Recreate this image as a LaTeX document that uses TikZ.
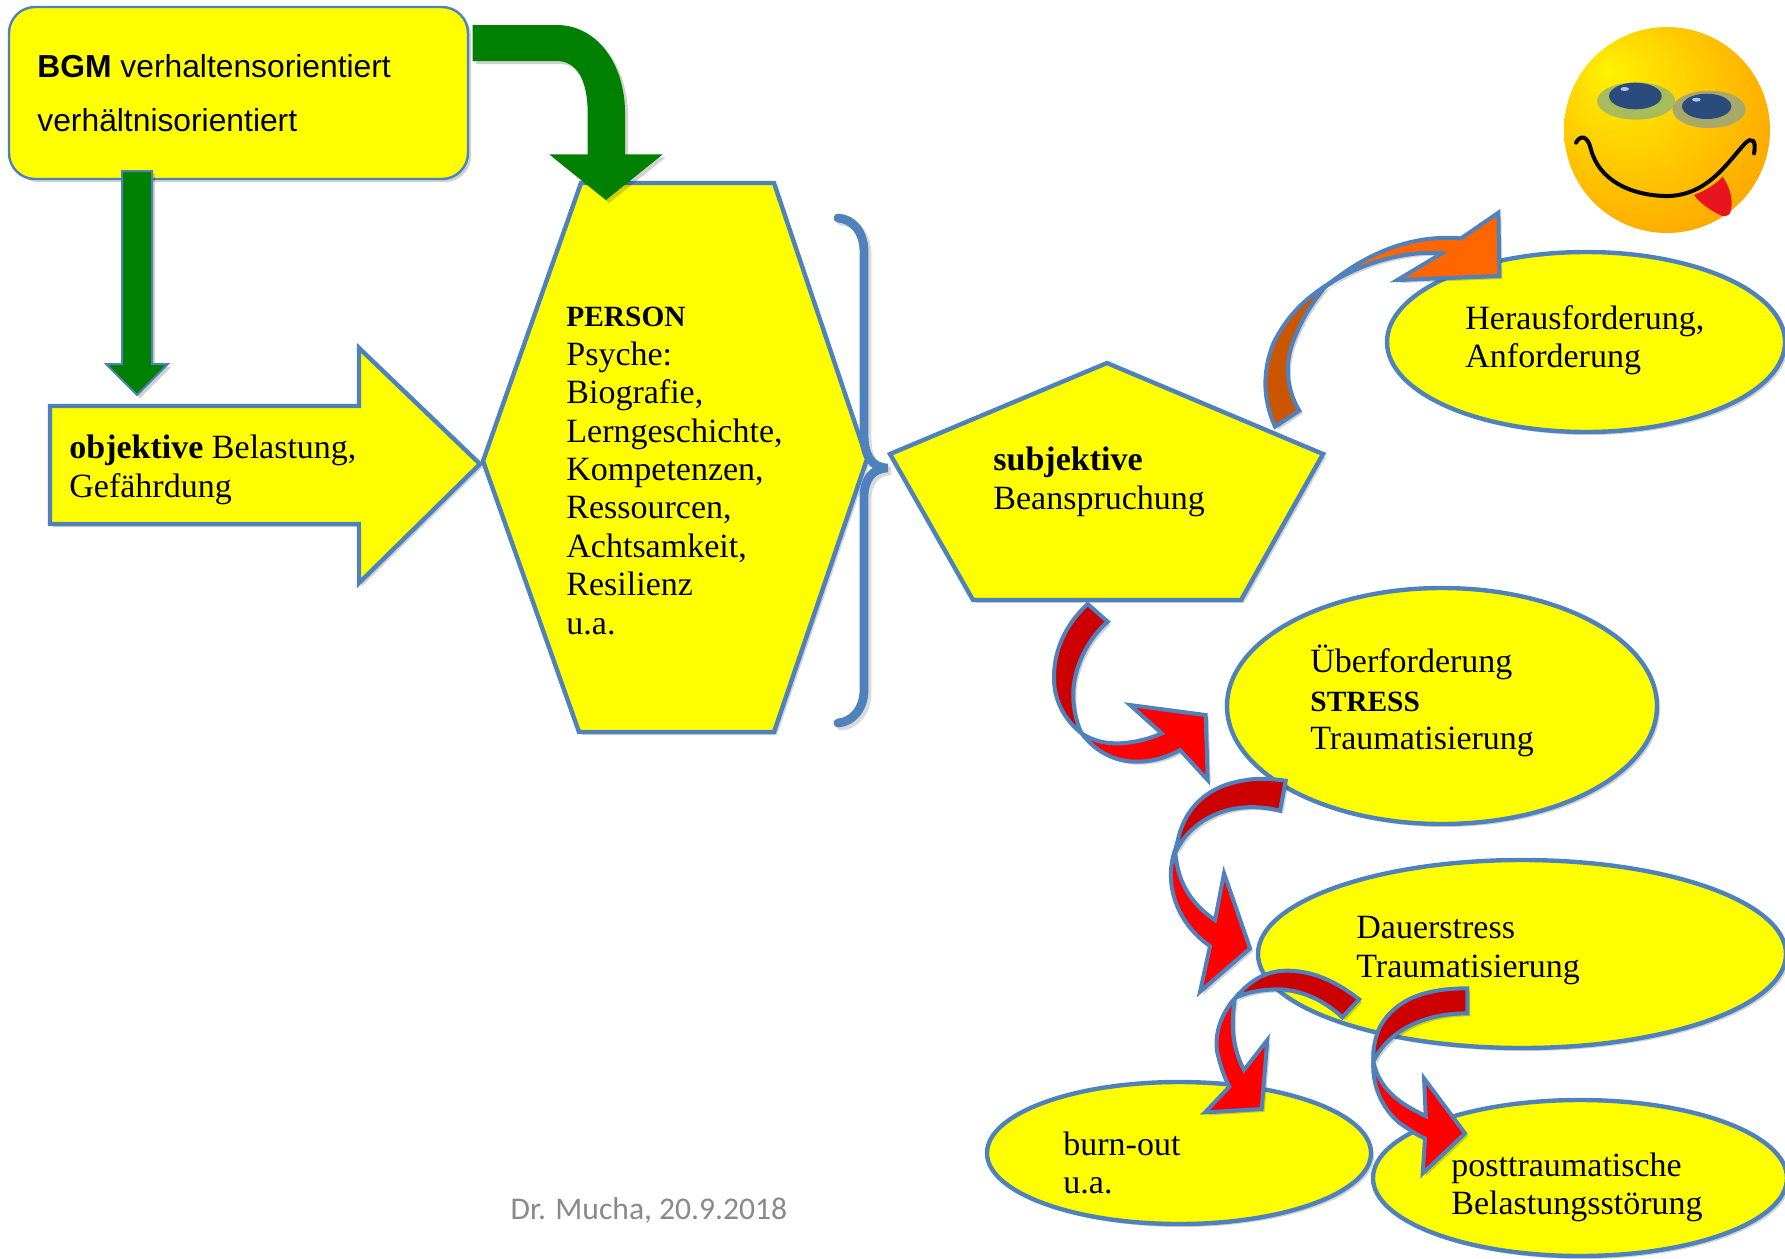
\documentclass[tikz,border=0pt]{standalone}
\usepackage{fontspec}
\setmainfont{Liberation Serif}
\newfontfamily\arialf{Liberation Sans}
\newfontfamily\carlitof{Carlito}
\usetikzlibrary{shadows,shapes.geometric}
\definecolor{edgeblue}{HTML}{4F81BD}
\definecolor{pureyellow}{HTML}{FFFF00}
\definecolor{purered}{HTML}{FF0000}
\definecolor{bandred}{HTML}{CC0000}
\definecolor{arrowgreen}{HTML}{008000}
\definecolor{darkorange}{HTML}{CC5500}
\definecolor{brightorange}{HTML}{FF6600}
\definecolor{footgray}{HTML}{898989}
\definecolor{eyeringa}{HTML}{A9BC5C}
\definecolor{eyeringb}{HTML}{A8A86A}
\definecolor{pupil}{HTML}{2A4B7C}
\definecolor{glint}{HTML}{A9C4E8}
\definecolor{faceA}{HTML}{FFF200}
\definecolor{faceB}{HTML}{FFD800}
\definecolor{faceC}{HTML}{FFB400}
\definecolor{faceD}{HTML}{F79A00}
\definecolor{faceE}{HTML}{EE6A00}
\definecolor{tongue}{HTML}{E8141E}
\pgfdeclareradialshading{faceshade}{\pgfpoint{-15bp}{15bp}}{
  color(0bp)=(faceA); color(12bp)=(faceB); color(28bp)=(faceC); color(40bp)=(faceD); color(50bp)=(faceE)}
\tikzset{
  softshadow/.style={drop shadow={shadow xshift=1.5pt,shadow yshift=-1.5pt,opacity=.18,fill=black}},
  shapeline/.style={draw=edgeblue,line width=2.2pt,line join=miter},
  yshape/.style={shapeline,fill=pureyellow,softshadow},
  yoval/.style={yshape,ellipse,inner sep=0pt},
  label/.style={font=\fontsize{17}{19.2}\selectfont,align=left,anchor=north west,inner sep=0pt,text=black},
  band/.style={draw=edgeblue,line width=2pt,line join=miter,softshadow},
}
\newcommand{\capsbold}[1]{{\fontsize{14.7}{19.2}\selectfont\bfseries #1}}
\begin{document}
\begin{tikzpicture}[x=0.5pt,y=-0.5pt]
\useasboundingbox (0,0) rectangle (1785,1259);

% smiley
\shade[shading=faceshade] (1667,130) circle (103);
\begin{scope}[shift={(1500,0)},x=0.1667pt,y=-0.1667pt]
  \fill[eyeringa] (408,303) ellipse (117 and 56);
  \fill[eyeringb] (627,328) ellipse (110 and 56);
  \fill[pupil] (406,288) ellipse (79 and 40);
  \fill[pupil] (620,319) ellipse (74 and 38);
  \fill[glint] (374,267) ellipse (13 and 6);
  \fill[glint] (589,299) ellipse (13 and 6);
  \fill[tongue] (582,585) .. controls (620,570) and (650,550) .. (668,530) .. controls (695,570) and (700,610) .. (690,640) .. controls (680,650) and (670,650) .. (660,645) .. controls (630,630) and (600,610) .. (582,585) -- cycle;
  \draw[black,line width=2pt,line cap=round] (228,428) .. controls (240,405) and (262,405) .. (272,445) .. controls (295,540) and (390,585) .. (495,588) .. controls (620,590) and (680,490) .. (735,430) .. controls (755,410) and (770,420) .. (762,460);
\end{scope}

% ovals
\node[yoval,minimum width=199pt,minimum height=90pt] (herausf) at (1586,342) {};
\node[yoval,minimum width=215pt,minimum height=118pt] (ueberf) at (1442,706) {};
\node[yoval,minimum width=264pt,minimum height=94pt] (dauer) at (1522,954) {};
\node[yoval,minimum width=192pt,minimum height=71pt] (burn) at (1179,1153) {};
\node[yoval,minimum width=207pt,minimum height=78pt] (post) at (1580,1178) {};

% BGM
\node[draw=edgeblue,line width=1.2pt,fill=pureyellow,softshadow,rounded corners=13pt,minimum width=229.5pt,minimum height=86pt,inner sep=0pt] (bgm) at (238.5,93) {};
\node[anchor=base west,inner sep=0pt,font=\arialf\fontsize{15.9}{19}\selectfont] (bgmone) at (37,77) {\textbf{BGM} verhaltensorientiert};
\node[anchor=base west,inner sep=0pt,font=\arialf\fontsize{15.9}{19}\selectfont] (bgmtwo) at (37,131) {verhältnisorientiert};

% hexagon, arrow, pentagon
\draw[yshape] (581,183) -- (774,183) -- (867,459) -- (774,732) -- (579,732) -- (483,461) -- cycle;
\draw[yshape] (50,406) -- (359,406) -- (359,348) -- (480,464) -- (359,583) -- (359,524) -- (50,524) -- cycle;
\draw[yshape] (1107,363) -- (1323,454) -- (1241,600) -- (973,600) -- (890,454) -- cycle;

% green arrows
\draw[fill=arrowgreen,draw=edgeblue,line width=1pt,softshadow] (122,171) -- (152,171) -- (152,364) -- (168,364) -- (137,395) -- (106,364) -- (122,364) -- cycle;
\begin{scope}[shift={(450,0)},x=0.1667pt,y=-0.1667pt]
  \fill[arrowgreen,softshadow] (68,75) -- (320,75) .. controls (440,75) and (525,190) .. (525,340) -- (525,463) -- (638,463) -- (468,600) -- (298,463) -- (413,463) -- (413,340) .. controls (413,240) and (380,183) .. (320,183) -- (68,183) -- cycle;
\end{scope}

% brace
\draw[black,opacity=.15,line width=4.4pt,line cap=round,shift={(3,3)}] (838,218) .. controls (853,219) and (864,232) .. (864,252) -- (864,434) .. controls (864,456) and (872,468) .. (888,468) .. controls (872,468) and (864,480) .. (864,497) -- (864,690) .. controls (864,708) and (853,722) .. (838,723);
\draw[edgeblue,line width=4.4pt,line cap=round] (838,218) .. controls (853,219) and (864,232) .. (864,252) -- (864,434) .. controls (864,456) and (872,468) .. (888,468) .. controls (872,468) and (864,480) .. (864,497) -- (864,690) .. controls (864,708) and (853,722) .. (838,723);

% arrow A and B
\begin{scope}[shift={(1040,590)},x=0.1667pt,y=-0.1667pt]
  \draw[band,fill=bandred] (143,42) .. controls (70,110) and (40,190) .. (42,270) .. controls (44,340) and (80,395) .. (125,430) .. controls (105,390) and (98,340) .. (100,300) .. controls (105,220) and (150,140) .. (203,95) -- cycle;
  \draw[band,fill=purered] (125,430) .. controls (170,490) and (230,515) .. (290,515) .. controls (340,515) and (385,500) .. (420,480) -- (503,570) -- (497,375) -- (270,345) -- (365,430) .. controls (320,450) and (270,460) .. (230,460) .. controls (190,460) and (155,450) .. (125,430) -- cycle;
  \draw[band,fill=bandred] (737,572) .. controls (690,565) and (640,565) .. (620,570) .. controls (500,585) and (420,660) .. (408,785) .. controls (440,710) and (550,620) .. (720,662) -- cycle;
  \draw[band,fill=purered] (405,780) .. controls (370,880) and (410,1000) .. (510,1068) -- (480,1205) -- (630,1075) -- (552,850) -- (525,990) .. controls (450,940) and (410,870) .. (405,780) -- cycle;
\end{scope}

% arrow C, D
\begin{scope}[shift={(1180,960)},x=0.1667pt,y=-0.1667pt]
  \draw[band,fill=bandred] (537,118) .. controls (450,50) and (380,32) .. (320,32) .. controls (260,32) and (210,60) .. (165,115) .. controls (200,95) and (250,88) .. (300,88) .. controls (350,90) and (420,110) .. (487,172) -- cycle;
  \draw[band,fill=purered] (165,115) .. controls (115,170) and (100,240) .. (115,290) .. controls (125,330) and (135,355) .. (148,380) -- (75,457) -- (245,447) -- (262,240) -- (192,330) .. controls (160,270) and (150,200) .. (165,115) -- cycle;
  \draw[band,fill=bandred] (862,85) .. controls (750,85) and (650,110) .. (600,200) .. controls (585,230) and (578,270) .. (580,305) .. controls (620,220) and (720,160) .. (862,160) -- cycle;
  \draw[band,fill=purered] (580,305) .. controls (575,380) and (610,450) .. (660,490) .. controls (690,510) and (710,525) .. (735,535) -- (728,640) -- (855,520) -- (732,355) -- (737,468) .. controls (680,440) and (600,400) .. (580,305) -- cycle;
\end{scope}

% arrow E
\begin{scope}[shift={(1240,200)},x=0.1667pt,y=-0.1667pt]
  \draw[band,fill=darkorange] (105,680) .. controls (70,600) and (65,520) .. (100,430) .. controls (140,350) and (190,300) .. (260,255) .. controls (215,310) and (190,350) .. (165,410) .. controls (130,490) and (140,570) .. (178,632) -- cycle;
  \draw[band,fill=brightorange] (250,265) .. controls (340,190) and (480,100) .. (663,115) -- (775,38) -- (778,228) -- (472,240) -- (605,160) .. controls (500,150) and (350,190) .. (250,265) -- cycle;
\end{scope}

% texts
\node[label] (objtext) at (69,435) {\textbf{objektive} Belastung,\\Gefährdung};
\node[label] (persontext) at (566,307) {\capsbold{PERSON}\\Psyche:\\Biografie,\\Lerngeschichte,\\Kompetenzen,\\Ressourcen,\\Achtsamkeit,\\Resilienz\\u.a.};
\node[label] (subjtext) at (993,447) {\textbf{subjektive}\\Beanspruchung};
\node[label] (heraustext) at (1465,305) {Herausforderung,\\Anforderung};
\node[label] (uebertext) at (1310,645) {Überforderung\\\capsbold{STRESS}\\Traumatisierung};
\node[label] (dauertext) at (1356,916) {Dauerstress\\Traumatisierung};
\node[label] (burntext) at (1063,1131) {burn-out\\u.a.};
\node[label] (posttext) at (1451,1152) {posttraumatische\\Belastungsstörung};
\node[font=\carlitof\fontsize{15.8}{18}\selectfont,text=footgray,inner sep=0pt] (foot) at (649,1211) {Dr. Mucha, 20.9.2018};
\end{tikzpicture}
\end{document}
